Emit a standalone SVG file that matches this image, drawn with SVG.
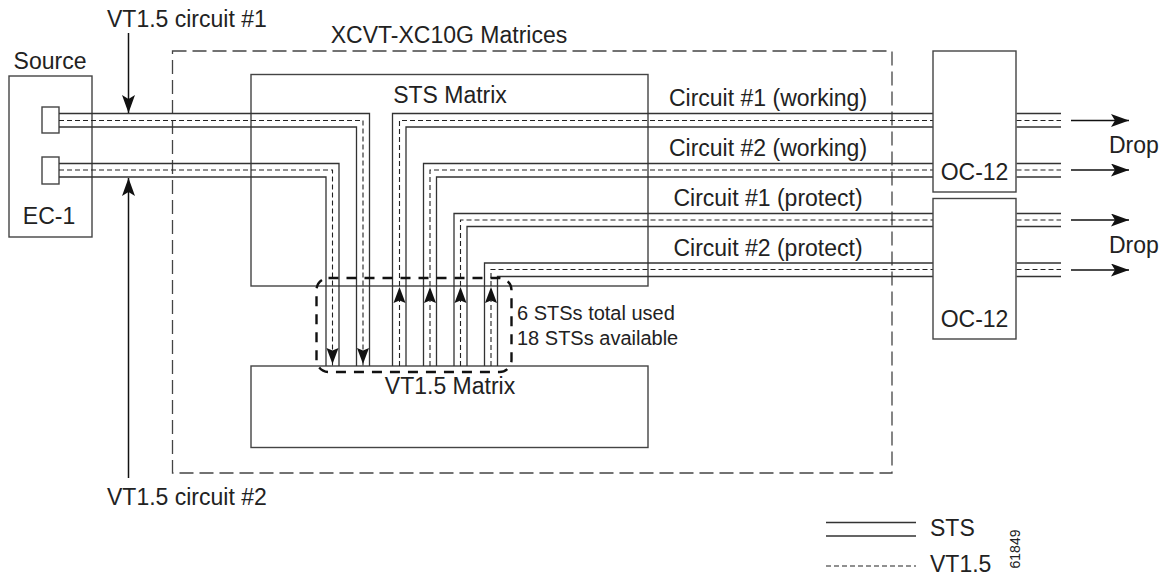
<svg xmlns="http://www.w3.org/2000/svg" width="1174" height="575" viewBox="0 0 1174 575">
<style>
text{font-family:"Liberation Sans",Arial,sans-serif;fill:#222;font-size:23px}
.box{fill:none;stroke:#444;stroke-width:1.4}
.wbox{fill:#fff;stroke:#444;stroke-width:1.4}
.sts{fill:none;stroke:#333;stroke-width:1.3}
.vt{fill:none;stroke:#222;stroke-width:1.1;stroke-dasharray:5 3}
.enc{fill:none;stroke:#444;stroke-width:1.3;stroke-dasharray:14 6}
.grp{fill:none;stroke:#111;stroke-width:2.4;stroke-dasharray:10 8}
.arr{fill:none;stroke:#111;stroke-width:1.5}
.small{font-size:20px}
</style>
<defs>
<marker id="ah" markerUnits="userSpaceOnUse" markerWidth="20" markerHeight="14" refX="18" refY="6.5" orient="auto">
<path d="M0,0 L18,6.5 L0,13 L4,6.5 Z" fill="#111"/>
</marker>
<path id="ahd" d="M0,0 L-6,-16 L0,-13.5 L6,-16 Z" fill="#111"/>
<path id="ahu" d="M0,0 L-6,16 L0,13.5 L6,16 Z" fill="#111"/>
</defs>

<g id="xcvt">
<rect class="enc" x="172.5" y="51" width="719.5" height="422"/>
<text x="449" y="43" text-anchor="middle">XCVT-XC10G Matrices</text>
</g>

<g id="sts-matrix">
<rect class="box" x="251" y="74.5" width="397" height="211.5"/>
<text x="450" y="103" text-anchor="middle">STS Matrix</text>
</g>

<g id="vt-matrix">
<rect class="box" x="251" y="366" width="397" height="81.5"/>
<text x="450" y="394" text-anchor="middle">VT1.5 Matrix</text>
</g>

<g id="source">
<text x="50" y="69" text-anchor="middle">Source</text>
<rect class="box" x="9" y="76" width="83" height="161"/>
<text x="49" y="224" text-anchor="middle">EC-1</text>
<rect class="wbox" x="42" y="107" width="17" height="26"/>
<rect class="wbox" x="42" y="157" width="17" height="27"/>
</g>

<g id="connectors">
<path class="sts" d="M59,113.5 H369.5 V366"/>
<path class="vt" d="M59,120.5 H363 V366"/>
<path class="sts" d="M59,127 H356.5 V366"/>
<path class="sts" d="M59,163.5 H339 V366"/>
<path class="vt" d="M59,170 H332.5 V366"/>
<path class="sts" d="M59,177 H326 V366"/>
<use href="#ahd" x="363" y="364"/>
<use href="#ahd" x="332.5" y="364"/>
<path class="sts" d="M392.5,366 V113.5 H933 M1016.5,113.5 H1061"/>
<path class="vt" d="M399.5,366 V120.5 H933 M1016.5,120.5 H1061"/>
<path class="sts" d="M406,366 V127 H933 M1016.5,127 H1061"/>
<path class="sts" d="M423.5,366 V163.5 H933 M1016.5,163.5 H1061"/>
<path class="vt" d="M430,366 V170 H933 M1016.5,170 H1061"/>
<path class="sts" d="M436.5,366 V177 H933 M1016.5,177 H1061"/>
<path class="sts" d="M454,366 V213.5 H933 M1016.5,213.5 H1061"/>
<path class="vt" d="M460.5,366 V220 H933 M1016.5,220 H1061"/>
<path class="sts" d="M467,366 V226.5 H933 M1016.5,226.5 H1061"/>
<path class="sts" d="M484.5,366 V263 H933 M1016.5,263 H1061"/>
<path class="vt" d="M491,366 V269.5 H933 M1016.5,269.5 H1061"/>
<path class="sts" d="M497.5,366 V276.5 H933 M1016.5,276.5 H1061"/>
<use href="#ahu" x="399.5" y="287"/>
<use href="#ahu" x="430" y="287"/>
<use href="#ahu" x="460.5" y="287"/>
<use href="#ahu" x="491" y="287"/>
<path class="arr" d="M1071,120.5 H1129" marker-end="url(#ah)"/>
<path class="arr" d="M1071,170 H1129" marker-end="url(#ah)"/>
<path class="arr" d="M1071,220 H1129" marker-end="url(#ah)"/>
<path class="arr" d="M1071,270 H1129" marker-end="url(#ah)"/>
<path class="arr" d="M128.5,33 V113" marker-end="url(#ah)"/>
<path class="arr" d="M128.5,478 V178" marker-end="url(#ah)"/>
</g>

<g id="sts-group">
<rect class="grp" x="316.5" y="278" width="195" height="94" rx="12"/>
<text class="small" x="517" y="320">6 STSs total used</text>
<text class="small" x="517" y="345">18 STSs available</text>
</g>

<g id="oc12-1">
<rect class="box" x="933" y="51" width="83" height="141"/>
<text x="974.5" y="180" text-anchor="middle">OC-12</text>
</g>
<g id="oc12-2">
<rect class="box" x="933" y="198.5" width="83" height="140.5"/>
<text x="974.5" y="327" text-anchor="middle">OC-12</text>
</g>

<g id="labels">
<text x="107" y="27">VT1.5 circuit #1</text>
<text x="107" y="505">VT1.5 circuit #2</text>
<text x="768" y="106" text-anchor="middle">Circuit #1 (working)</text>
<text x="768" y="156" text-anchor="middle">Circuit #2 (working)</text>
<text x="768" y="206" text-anchor="middle">Circuit #1 (protect)</text>
<text x="768" y="256" text-anchor="middle">Circuit #2 (protect)</text>
<text x="1109" y="153">Drop</text>
<text x="1109" y="253">Drop</text>
</g>

<g id="legend">
<path class="sts" d="M826,522.5 H916 M826,536 H916"/>
<path class="vt" d="M826,566 H916"/>
<text x="930" y="536">STS</text>
<text x="930" y="572">VT1.5</text>
<text transform="translate(1020,549) rotate(-90)" text-anchor="middle" style="font-size:14px">61849</text>
</g>
</svg>
